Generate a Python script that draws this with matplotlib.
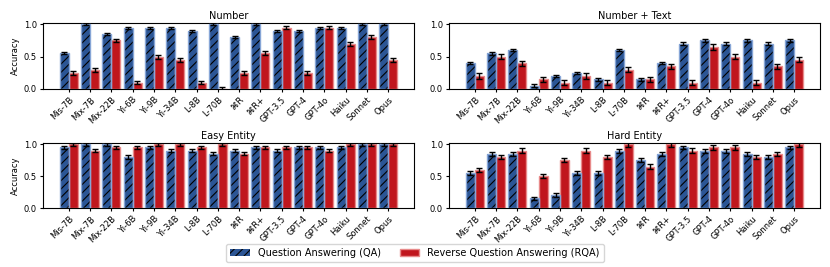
import numpy as np
import matplotlib
matplotlib.use("Agg")
import matplotlib.pyplot as plt
from matplotlib.patches import Patch

models = ["Mis-7B", "Mix-7B", "Mix-22B", "Yi-6B", "Yi-9B", "Yi-34B", "L-8B", "L-70B",
          "⌘R", "⌘R+", "GPT-3.5", "GPT-4", "GPT-4o", "Haiku", "Sonnet", "Opus"]

titles = ["Number", "Number + Text", "Easy Entity", "Hard Entity"]

number_qa = [0.55, 1.0, 0.85, 0.95, 0.95, 0.95, 0.9, 1.0, 0.8, 1.0, 0.9, 0.9, 0.95, 0.95, 1.0, 1.0]
number_rqa = [0.25, 0.3, 0.75, 0.1, 0.5, 0.45, 0.1, 0.0, 0.25, 0.55, 0.95, 0.25, 0.95, 0.7, 0.8, 0.45]
numtext_qa = [0.4, 0.55, 0.6, 0.05, 0.2, 0.25, 0.15, 0.6, 0.15, 0.4, 0.7, 0.75, 0.7, 0.75, 0.7, 0.75]
numtext_rqa = [0.2, 0.5, 0.4, 0.15, 0.1, 0.2, 0.1, 0.3, 0.15, 0.35, 0.1, 0.65, 0.5, 0.1, 0.35, 0.45]
easy_qa = [0.95, 1.0, 1.0, 0.8, 0.95, 0.9, 0.9, 0.85, 0.9, 0.95, 0.9, 0.95, 0.95, 0.95, 1.0, 1.0]
easy_rqa = [1.0, 0.9, 0.95, 0.95, 1.0, 1.0, 0.95, 1.0, 0.85, 0.95, 0.95, 0.95, 0.9, 1.0, 1.0, 1.0]
hard_qa = [0.55, 0.85, 0.85, 0.15, 0.2, 0.55, 0.55, 0.9, 0.75, 0.85, 0.95, 0.9, 0.9, 0.85, 0.8, 0.95]
hard_rqa = [0.6, 0.8, 0.9, 0.5, 0.75, 0.9, 0.8, 1.0, 0.65, 1.0, 0.9, 0.95, 0.95, 0.8, 0.85, 1.0]

qa_err = [0.015, 0.02, 0.025, 0.03]
rqa_err = [0.03, 0.04, 0.025, 0.035]

qa_data = [number_qa, numtext_qa, easy_qa, hard_qa]
rqa_data = [number_rqa, numtext_rqa, easy_rqa, hard_rqa]

BLUE = "#2b5595"
BLUE_EDGE = "#86a5d6"
RED = "#c0161d"
RED_EDGE = "#e88a8a"

plt.rcParams["font.family"] = ["DejaVu Sans"]
plt.rcParams["hatch.linewidth"] = 0.8
plt.rcParams["axes.linewidth"] = 0.8

fig = plt.figure(figsize=(8.3, 2.67), dpi=100)
W, H = 830, 267
boxes = [(43, 23, 414, 89), (449, 23, 820, 89), (43, 143, 414, 208), (449, 143, 820, 208)]

x = np.arange(len(models))
bw = 0.42
for i, (l, t, r, b) in enumerate(boxes):
    ax = fig.add_axes([l / W, 1 - b / H, (r - l) / W, (b - t) / H])
    qa = np.array(qa_data[i])
    rqa = np.array(rqa_data[i])
    ax.bar(x - bw / 2, qa, bw, color=BLUE, edgecolor="black", linewidth=0, hatch="////", zorder=2)
    ax.bar(x - bw / 2, qa, bw, fill=False, edgecolor=BLUE_EDGE, linewidth=1.0, zorder=3)
    ax.bar(x + bw / 2, rqa, bw, color=RED, edgecolor=RED_EDGE, linewidth=1.0, zorder=2)
    ax.errorbar(x - bw / 2, qa, yerr=qa_err[i], fmt="none", ecolor="black", elinewidth=1.0,
                capsize=2.0, capthick=1.0, zorder=4)
    ax.errorbar(x + bw / 2, rqa, yerr=rqa_err[i], fmt="none", ecolor="black", elinewidth=1.0,
                capsize=2.0, capthick=1.0, zorder=4)
    ax.set_ylim(0, 1.02)
    ax.set_yticks([0.0, 0.5, 1.0])
    ax.set_xticks(x)
    ax.set_xticklabels(models, rotation=45, ha="right", rotation_mode="anchor", fontsize=6)
    ax.tick_params(axis="y", labelsize=6, length=2.5, pad=2)
    ax.tick_params(axis="x", length=2.5, pad=2)
    ax.set_title(titles[i], fontsize=7, pad=3)
    if i % 2 == 0:
        ax.set_ylabel("Accuracy", fontsize=6, labelpad=3)

handles = [Patch(facecolor=BLUE, edgecolor="black", hatch="////", linewidth=0),
           Patch(facecolor=RED, edgecolor=RED_EDGE, linewidth=1.0)]
fig.legend(handles, ["Question Answering (QA)", "Reverse Question Answering (RQA)"],
           loc="center", bbox_to_anchor=(415 / W, 1 - 253 / H), ncol=2, fontsize=7,
           frameon=True)

fig.savefig("out.png", dpi=100)
